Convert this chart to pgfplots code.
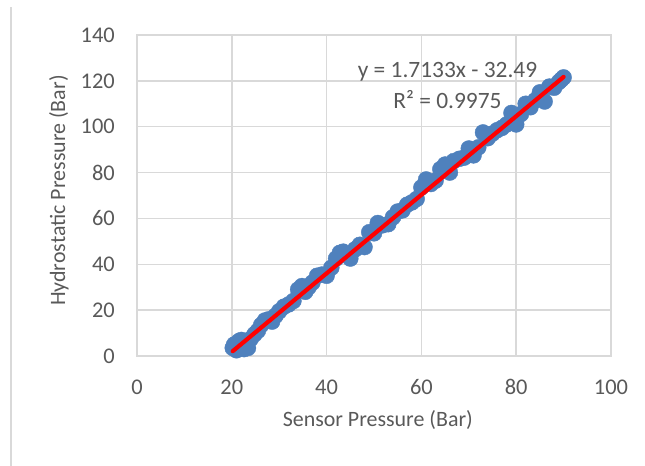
\documentclass[border=0pt]{standalone}
\usepackage{fontspec}
\setmainfont{Carlito}
\usepackage{pgfplots}
\pgfplotsset{compat=1.18}
\definecolor{txt}{HTML}{595959}
\definecolor{gridc}{HTML}{D9D9D9}
\definecolor{pts}{HTML}{4F81BD}

\pgfplotstableread{
x y
20.2 3.5
20.5 5.0
21.0 2.5
21.5 6.5
22.0 7.0
22.6 3.0
23.4 3.5
24.0 7.5
24.8 9.5
25.5 11.0
26.2 13.5
27.0 15.5
27.8 16.0
28.5 15.0
29.2 17.5
30.0 19.5
31.0 21.5
32.0 22.5
33.0 24.0
34.0 29.0
34.8 30.5
35.5 28.0
36.2 30.0
37.0 32.0
38.0 35.0
39.0 35.5
40.0 35.0
41.0 38.5
42.0 42.5
42.8 45.0
43.5 45.5
44.3 44.0
45.0 42.5
46.0 46.5
47.0 48.5
48.0 47.5
49.0 54.0
50.0 53.5
50.8 58.0
51.8 57.0
53.0 57.5
54.0 60.5
55.0 63.0
56.0 63.5
57.0 66.0
58.0 67.0
59.0 68.5
60.0 73.5
61.0 77.0
62.0 75.0
63.0 76.5
64.0 81.5
65.0 83.5
66.0 80.0
66.8 85.0
68.0 86.0
69.0 86.5
70.0 90.5
71.0 87.5
72.0 91.0
73.0 97.5
74.0 95.0
75.0 97.0
76.0 98.5
77.0 99.5
78.0 101.0
79.0 106.0
80.0 101.0
81.0 105.5
82.0 110.0
83.0 108.5
84.0 111.5
85.0 115.0
86.0 111.0
87.0 117.5
88.0 117.0
89.0 119.5
89.5 120.5
90.0 121.5
}\sensordata

\begin{document}
\begin{tikzpicture}
\begin{axis}[
  scale only axis, width=474bp, height=321bp,
  xmin=0, xmax=100, ymin=0, ymax=140,
  xtick={0,20,...,100}, ytick={0,20,...,140},
  grid=major, major grid style={gridc, line width=1.5bp},
  axis line style={gridc, line width=1.5bp},
  tick style={draw=none},
  clip mode=individual,
  /pgf/number format/assume math mode=true,
  tick label style={font=\fontsize{22.5}{27}\selectfont, text=txt},
  xticklabel style={anchor=base, inner sep=0pt, yshift=-38bp},
  yticklabel style={anchor=east, inner sep=0pt, xshift=-22bp},
  xlabel={Sensor Pressure (Bar)},
  ylabel={Hydrostatic Pressure (Bar)},
  every axis x label/.style={at={(axis description cs:0.508,-0.2)}, anchor=center,
    font=\fontsize{22}{26}\selectfont, text=txt},
  every axis y label/.style={at={(axis description cs:-0.1646,0.515)}, anchor=center, rotate=90,
    font=\fontsize{22}{26}\selectfont, text=txt},
]
\addplot[only marks, mark=*, mark size=8bp, mark options={fill=pts, draw=pts}] table[x=x, y=y] {\sensordata};
\addplot[draw=red, mark=none, line width=4.2bp, line cap=round] coordinates {(20.2,2.12) (90,121.71)};
\node[text=txt, font=\fontsize{23.5}{28}\selectfont] at (axis cs:65.5,123.9) {y = 1.7133x - 32.49};
\node[text=txt, font=\fontsize{23.5}{28}\selectfont] at (axis cs:65.5,111.7) {R² = 0.9975};
\end{axis}
\pgfresetboundingbox
\path[use as bounding box] (-137bp,-110bp) rectangle (508bp,356bp);
\draw[gridc, line width=2bp] (-126bp,-110bp) -- (-126bp,349bp);
\end{tikzpicture}
\end{document}
